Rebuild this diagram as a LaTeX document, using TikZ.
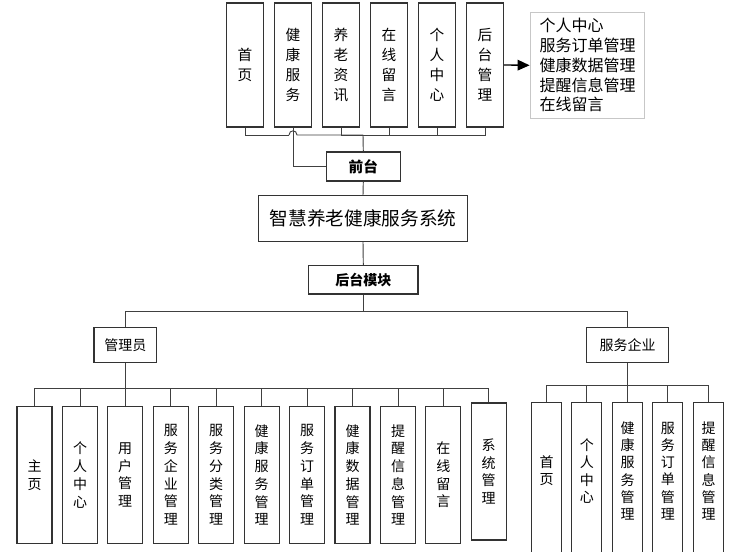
\documentclass[tikz,border=0pt]{standalone}
\usepackage{fontspec}
\setmainfont{Noto Sans CJK SC}
\usetikzlibrary{arrows.meta}

\tikzset{
  box/.style={draw=black!80, line width=0.9pt, fill=white, inner sep=0pt, align=center},
  topbox/.style={box, minimum width=27.75pt, minimum height=93pt, font=\fontsize{11}{15}\selectfont},
  subbox/.style={box, minimum width=26.25pt, minimum height=102.5pt, font=\fontsize{10.5}{13.3}\selectfont},
  firmbox/.style={box, minimum width=22.5pt, minimum height=125.5pt},
  firmtext/.style={align=center, inner sep=0pt, font=\fontsize{10.5}{12.9}\selectfont},
  headbox/.style={box, font=\fontsize{10.5}{12}\selectfont},
  link/.style={draw=black!75, line width=0.7pt},
}

\begin{document}
\begin{tikzpicture}[x=0.75pt,y=-0.75pt]
\useasboundingbox (0,0) rectangle (749,552);
\fill[white] (0,0) rectangle (749,552);
\clip (0,0) rectangle (749,552);

% front pages
\node[topbox] (p1) at (245,65) {首\\页};
\node[topbox] (p2) at (293,65) {健\\康\\服\\务};
\node[topbox] (p3) at (341,65) {养\\老\\资\\讯};
\node[topbox] (p4) at (389,65) {在\\线\\留\\言};
\node[topbox] (p5) at (437,65) {个\\人\\中\\心};
\node[topbox] (p6) at (485,65) {后\\台\\管\\理};
\node[draw=black!22, line width=0.9pt, fill=white, align=left, inner xsep=7pt, inner ysep=0pt,
  text width=72pt, minimum height=79.5pt, font=\fontsize{12}{14.8}\selectfont]
  (note) at (587.5,65.3) {个人中心\\服务订单管理\\健康数据管理\\提醒信息管理\\在线留言};

\node[headbox, minimum width=55.5pt, minimum height=21.75pt, font=\fontsize{11}{12}\selectfont\bfseries] (front) at (363.3,166.5) {前台};
\node[box, minimum width=157pt, minimum height=34.2pt, font=\fontsize{14}{16}\selectfont] (title) at (363,218.5) {智慧养老健康服务系统};
\node[headbox, minimum width=82pt, minimum height=21.5pt, font=\fontsize{10.5}{12}\selectfont\bfseries] (back) at (363.3,279.7) {后台模块};
\node[headbox, minimum width=47pt, minimum height=26.25pt] (admin) at (125.3,345.2) {管理员};
\node[headbox, minimum width=61.5pt, minimum height=26.25pt] (firm) at (627.7,345.2) {服务企业};

% admin modules
\node[subbox] (a1) at (34.5,475) {主\\页};
\node[subbox] (a2) at (80,475) {个\\人\\中\\心};
\node[subbox] (a3) at (125.2,475) {用\\户\\管\\理};
\node[subbox] (a4) at (170.8,475) {服\\务\\企\\业\\管\\理};
\node[subbox] (a5) at (216.2,475) {服\\务\\分\\类\\管\\理};
\node[subbox] (a6) at (261.7,475) {健\\康\\服\\务\\管\\理};
\node[subbox] (a7) at (307,475) {服\\务\\订\\单\\管\\理};
\node[subbox] (a8) at (352.5,475) {健\\康\\数\\据\\管\\理};
\node[subbox] (a9) at (398,475) {提\\醒\\信\\息\\管\\理};
\node[subbox] (a10) at (443.3,475) {在\\线\\留\\言};
\node[subbox, minimum height=102.75pt] (a11) at (488.7,471.4) {系\\统\\管\\理};

% firm modules
\node[firmbox] (f1) at (546.7,486.4) {};
\node[firmbox] (f2) at (586.8,486.4) {};
\node[firmbox] (f3) at (627.5,486.4) {};
\node[firmbox] (f4) at (667.8,486.4) {};
\node[firmbox] (f5) at (708.5,486.4) {};
\node[firmtext] (f1t) at (546.7,471) {首\\页};
\node[firmtext] (f2t) at (586.8,471) {个\\人\\中\\心};
\node[firmtext] (f3t) at (627.5,471) {健\\康\\服\\务\\管\\理};
\node[firmtext] (f4t) at (667.8,471) {服\\务\\订\\单\\管\\理};
\node[firmtext] (f5t) at (708.5,471) {提\\醒\\信\\息\\管\\理};

% connectors
\coordinate (tbus) at (363,135);
\coordinate (hopl) at (289,135);
\coordinate (hopr) at (297,135);
\draw[link] (p1.south) |- (hopl);
\draw[link] (hopl) .. controls (289,129.5) and (297,129.5) .. (hopr) -- (tbus);
\foreach \n in {p3,p4,p5,p6}
  \draw[link] (\n.south) |- (tbus);
\draw[link] (tbus) -- (front.north);
\draw[link] (front.west) -| (p2.south);
\draw[draw=black, line width=1pt, -{Triangle[length=9pt,width=8pt]}] (p6.east) -- (note.west);

\draw[link] (front.south) -- (title.north);
\draw[link] (title.south) -- (back.north);
\coordinate (hbus) at (363.3,311.7);
\draw[link] (back.south) -- (hbus);
\draw[link] (hbus) -| (admin.north);
\draw[link] (hbus) -| (firm.north);

\coordinate (abus) at (125.3,388.7);
\draw[link] (admin.south) -- (abus);
\foreach \i in {1,...,11}
  \draw[link] (abus) -| (a\i.north);

\coordinate (fbus) at (627.7,385.7);
\draw[link] (firm.south) -- (fbus);
\foreach \i in {1,...,5}
  \draw[link] (fbus) -| (f\i.north);
\end{tikzpicture}
\end{document}
